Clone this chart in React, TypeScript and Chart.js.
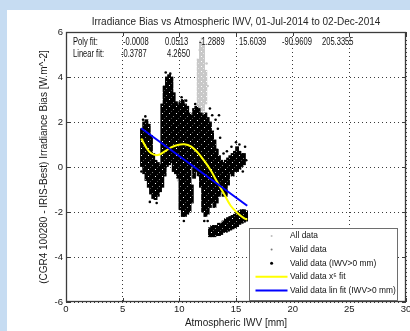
import { useEffect, useRef } from 'react';
import { Chart, registerables } from 'chart.js';

Chart.register(...registerables);

const FONT = "'Liberation Sans', Arial, Helvetica, sans-serif";

// ---------- text ----------
const TITLE = 'Irradiance Bias vs Atmospheric IWV, 01-Jul-2014 to 02-Dec-2014';
const X_TITLE = 'Atmospheric IWV [mm]';
const Y_TITLE = '(CGR4 100280 - IRIS-Best) Irradiance Bias [W.m^-2]';
const POLY_LABEL = 'Poly fit:';
const POLY_COEFFS = ['-0.0008', '0.0513', '-1.2889', '15.6039', '-90.9609', '205.3355'];
const LIN_LABEL = 'Linear fit:';
const LIN_COEFFS = ['-0.3787', '4.2650'];

// ---------- axes ----------
const X_MIN = 0, X_MAX = 30, X_STEP = 5;
const Y_MIN = -6, Y_MAX = 6, Y_STEP = 2;

// ---------- valid data (IWV>0 mm): column ranges ----------
const validIwv = [
  6.7, 6.9, 7.1, 7.3, 7.5, 7.7, 7.9, 8.1, 8.3, 8.5, 8.7, 8.9, 9.1, 9.3, 9.5, 9.7, 9.9,
  10.1, 10.3, 10.5, 10.7, 10.9, 11.1, 11.1, 11.3, 11.5, 11.7, 11.9, 12.1, 12.3, 12.5, 12.7,
  12.9, 13.1, 13.3, 13.5, 13.7, 13.9, 14.1, 14.3, 14.5, 14.7, 14.9, 15.1, 15.3, 15.5, 15.7,
  12.7, 12.9, 13.1, 13.3, 13.5, 13.7, 13.9, 14.1, 14.3, 14.5, 14.7, 14.9, 15.1, 15.3, 15.5, 15.7, 15.9,
];
const validBiasLow = [
  0.0, -0.3, -0.6, -0.9, -1.2, -1.4, -1.45, -1.3, -1.1, -0.9, -0.4, 0.0, 0.1, 0.2, -0.2, -0.3, -0.5,
  -1.9, -2.2, -2.2, -2.1, -2.0, 0.0, -1.6, -0.5, -0.2, -0.4, -0.9, -2.0, -2.2, -2.1, -1.8,
  -1.6, -1.8, -1.6, -1.3, -1.1, -1.3, -1.3, -0.8, -0.3, -0.4, -0.2, -0.2, -0.1, 0.0, 0.1,
  -3.1, -3.1, -3.1, -3.05, -3.05, -3.0, -2.9, -2.9, -2.85, -2.8, -2.75, -2.7, -2.65, -2.55, -2.5, -2.45, -2.4,
];
const validBiasHigh = [
  1.7, 2.0, 2.1, 1.9, 1.4, 0.6, 0.3, 0.2, 0.1, 2.8, 3.6, 4.0, 4.1, 4.0, 3.3, 2.9, 2.8,
  2.9, 3.0, 2.8, 2.7, 2.4, 2.3, -0.8, 2.6, 2.7, 2.6, 2.4, 2.3, 2.4, 2.2, 2.0,
  1.6, 1.2, 0.8, 0.5, 0.3, 0.2, 0.3, 0.4, 0.5, 0.6, 0.7, 0.9, 0.7, 0.6, 0.6,
  -2.7, -2.6, -2.6, -2.6, -2.5, -2.5, -2.4, -2.3, -2.25, -2.2, -2.15, -2.1, -2.0, -1.95, -1.9, -1.9, -1.95,
];
// isolated points around the clouds
const scatterIwv = [7.0, 6.8, 8.8, 9.2, 10.2, 10.6, 11.4, 12.7, 12.9, 13.2, 13.4, 13.6, 13.5, 13.9, 14.2, 14.6, 15.0, 15.3, 15.8, 15.9, 15.6, 7.4, 8.0, 10.4, 6.65, 12.2, 12.5];
const scatterBias = [2.25, 2.1, 4.2, 4.15, 3.1, 2.95, 2.8, 2.6, 2.3, 2.1, 1.7, 1.3, 2.3, 0.6, 0.7, 0.9, 1.1, 1.0, 0.9, 0.3, -0.2, -1.55, -1.6, -2.4, -0.2, -2.4, -2.4];

// ---------- all data (flagged points, light grey) ----------
const allIwv = [11.7, 11.9, 12.1, 12.3];
const allBiasLow = [2.6, 2.4, 2.5, 2.8];
const allBiasHigh = [4.8, 5.6, 5.4, 4.3];
const allPtIwv = [12.0, 11.8, 12.5, 12.4, 9.85, 9.9];
const allPtBias = [5.7, 5.2, 3.6, 4.6, -0.4, -0.6];

// ---------- fits ----------
const polyIwv = [6.64, 7.07, 7.51, 8.10, 8.68, 9.27, 9.85, 10.44, 11.02, 11.61, 12.19, 12.78, 13.36, 13.95, 14.53, 15.12, 15.70, 15.99];
const polyBias = [1.27, 0.87, 0.61, 0.53, 0.68, 0.87, 0.98, 1.01, 0.92, 0.65, 0.28, -0.16, -0.68, -1.2, -1.72, -2.04, -2.27, -2.34];
const linIwv = [6.64, 15.99];
const linBias = [1.72, -1.72];

// ---------- legend labels ----------
const LEGEND_ALL = 'All data';
const LEGEND_VALID = 'Valid data';
const LEGEND_IWV = 'Valid data (IWV>0 mm)';
const LEGEND_POLY = 'Valid data x\u2075 fit';
const LEGEND_LIN = 'Valid data lin fit (IWV>0 mm)';

const ranges = (xs: number[], lo: number[], hi: number[]) => xs.map((x, i) => ({ x, y: [lo[i], hi[i]] }));
const points = (xs: number[], ys: number[]) => xs.map((x, i) => ({ x, y: ys[i] }));

function speckle(base: string, size: number, holes: [number, number, string][]) {
  const c = document.createElement('canvas');
  c.width = size; c.height = size;
  const g = c.getContext('2d')!;
  g.fillStyle = base;
  g.fillRect(0, 0, size, size);
  holes.forEach(([x, y, col]) => { g.fillStyle = col; g.fillRect(x, y, 1, 1); });
  return g.createPattern(c, 'repeat');
}

const framePlugin = {
  id: 'frame',
  beforeDraw(chart: any) {
    const { ctx, width, height } = chart;
    ctx.save();
    ctx.fillStyle = '#c6dcf2';
    ctx.fillRect(0, 0, width, height);
    ctx.fillStyle = '#ffffff';
    ctx.fillRect(7, 10, width - 7, height - 10);
    ctx.restore();
  },
};

const boxPlugin = {
  id: 'box',
  afterDatasetsDraw(chart: any) {
    const { ctx, chartArea: a, scales } = chart;
    ctx.save();
    ctx.strokeStyle = '#3c3c3c';
    ctx.lineWidth = 1.3;
    ctx.strokeRect(a.left + 0.5, a.top + 0.5, a.right - a.left - 1, a.bottom - a.top - 1);
    const tl = 4;
    ctx.lineWidth = 1;
    ctx.beginPath();
    scales.x.ticks.forEach((t: any) => {
      const p = Math.round(scales.x.getPixelForValue(t.value)) + 0.5;
      ctx.moveTo(p, a.bottom); ctx.lineTo(p, a.bottom - tl);
      ctx.moveTo(p, a.top); ctx.lineTo(p, a.top + tl);
    });
    scales.y.ticks.forEach((t: any) => {
      const p = Math.round(scales.y.getPixelForValue(t.value)) + 0.5;
      ctx.moveTo(a.left, p); ctx.lineTo(a.left + tl, p);
      ctx.moveTo(a.right, p); ctx.lineTo(a.right - tl, p);
    });
    ctx.stroke();
    ctx.restore();
  },
};

const textPlugin = {
  id: 'texts',
  afterDraw(chart: any) {
    const { ctx, chartArea: a } = chart;
    ctx.save();
    ctx.fillStyle = '#262626';
    ctx.font = `10px ${FONT}`;
    ctx.textAlign = 'center';
    ctx.textBaseline = 'middle';
    ctx.fillText(TITLE, (a.left + a.right) / 2, 22);

    ctx.fillStyle = '#111';
    ctx.textAlign = 'left';
    ctx.font = `10.5px ${FONT}`;
    const narrow = (s: string, x: number, y: number) => {
      ctx.save();
      ctx.translate(x, y);
      ctx.scale(0.72, 1);
      ctx.fillText(s, 0, 0);
      ctx.restore();
    };
    const r1 = a.top + 10, r2 = a.top + 22.5;
    narrow(POLY_LABEL, a.left + 7, r1);
    narrow(LIN_LABEL, a.left + 7, r2);
    const polyOff = [57, 99, 133, 173, 216, 256];
    const linOff = [55, 101];
    POLY_COEFFS.forEach((c, i) => narrow(c, a.left + polyOff[i], r1));
    LIN_COEFFS.forEach((c, i) => narrow(c, a.left + linOff[i], r2));
    ctx.restore();
  },
};

const legendPlugin = {
  id: 'boxLegend',
  afterDraw(chart: any) {
    const { ctx, chartArea: a } = chart;
    const w = 148, h = 72;
    const x0 = Math.round(a.right - 9 - w), y0 = Math.round(a.bottom - 2 - h);
    ctx.save();
    ctx.fillStyle = '#fff';
    ctx.fillRect(x0, y0, w, h);
    ctx.strokeStyle = '#6e6e6e';
    ctx.lineWidth = 1;
    ctx.strokeRect(x0 + 0.5, y0 + 0.5, w, h);
    ctx.font = `8.4px ${FONT}`;
    ctx.textBaseline = 'middle';
    ctx.textAlign = 'left';
    const items = chart.data.datasets
      .filter((d: any) => d.legendRank !== undefined)
      .sort((p: any, q: any) => p.legendRank - q.legendRank);
    items.forEach((d: any, i: number) => {
      const y = y0 + 8 + 13.6 * i;
      if (d.legendKind === 'line') {
        ctx.strokeStyle = d.borderColor;
        ctx.lineWidth = 2;
        ctx.beginPath();
        ctx.moveTo(x0 + 6.5, y);
        ctx.lineTo(x0 + 38.5, y);
        ctx.stroke();
      } else {
        ctx.fillStyle = d.legendDotColor;
        ctx.beginPath();
        ctx.arc(x0 + 22.6, y, d.legendDot, 0, Math.PI * 2);
        ctx.fill();
      }
      ctx.fillStyle = '#111';
      ctx.fillText(d.label, x0 + 41, y);
    });
    ctx.restore();
  },
};

export default function App() {
  const ref = useRef<HTMLCanvasElement>(null);
  useEffect(() => {
    document.body.style.margin = '0';
    if (!ref.current) return;
    const blackFill = speckle('#000', 7, [[1, 1, '#ffffff'], [5, 4, '#8a8a8a'], [3, 6, '#444']]) || '#000';
    const greyFill = speckle('#c8c8c8', 5, [[1, 1, '#fff'], [3, 3, '#e6e6e6']]) || '#c8c8c8';
    const barCommon = { type: 'bar', grouped: false, barThickness: 3, borderWidth: 0 };
    const chart = new Chart(ref.current, {
      type: 'bar',
      data: {
        datasets: [
          { ...barCommon, label: LEGEND_ALL, data: ranges(allIwv, allBiasLow, allBiasHigh), backgroundColor: greyFill, order: 6, legendRank: 0, legendDot: 1, legendDotColor: '#bdbdbd' },
          { type: 'scatter', label: 'all-extra', data: points(allPtIwv, allPtBias), backgroundColor: '#c8c8c8', borderWidth: 0, pointRadius: 1.3, order: 7 },
          { ...barCommon, label: LEGEND_VALID, data: ranges(validIwv, validBiasLow, validBiasHigh), backgroundColor: '#808080', order: 5, legendRank: 1, legendDot: 1, legendDotColor: '#7a7a7a' },
          { ...barCommon, label: LEGEND_IWV, data: ranges(validIwv, validBiasLow, validBiasHigh), backgroundColor: blackFill, order: 3, legendRank: 2, legendDot: 1.5, legendDotColor: '#000' },
          { type: 'scatter', label: 'iwv-extra', data: points(scatterIwv, scatterBias), backgroundColor: '#000', borderWidth: 0, pointRadius: 1.3, order: 2 },
          { type: 'line', label: LEGEND_POLY, data: points(polyIwv, polyBias), borderColor: '#ffff00', borderWidth: 2, pointRadius: 0, tension: 0.35, order: 1, legendRank: 3, legendKind: 'line' },
          { type: 'line', label: LEGEND_LIN, data: points(linIwv, linBias), borderColor: '#0000ff', borderWidth: 2, pointRadius: 0, order: 0, legendRank: 4, legendKind: 'line' },
        ] as any,
      },
      options: {
        animation: false,
        responsive: false,
        devicePixelRatio: 1,
        layout: { padding: { top: 32, right: 2, left: 0, bottom: 0 } },
        plugins: { legend: { display: false }, title: { display: false }, tooltip: { enabled: false } },
        scales: {
          x: {
            type: 'linear', min: X_MIN, max: X_MAX, offset: false,
            ticks: { stepSize: X_STEP, padding: 2, color: '#1a1a1a', font: { family: FONT, size: 9.5 }, maxRotation: 0, autoSkip: false },
            grid: { color: '#3a3a3a', lineWidth: 1, drawTicks: false, offset: false },
            border: { display: false, dash: [1, 3] },
            title: { display: true, text: X_TITLE, color: '#1a1a1a', font: { family: FONT, size: 10 }, padding: { top: 0, bottom: 2 } },
            afterFit: (s: any) => { s.height = 29; s.paddingRight = 0; s.paddingLeft = 0; },
          },
          y: {
            type: 'linear', min: Y_MIN, max: Y_MAX,
            ticks: { stepSize: Y_STEP, padding: 3, color: '#1a1a1a', font: { family: FONT, size: 9.5 } },
            grid: { color: '#3a3a3a', lineWidth: 1, drawTicks: false },
            border: { display: false, dash: [1, 3] },
            title: { display: true, text: Y_TITLE, color: '#1a1a1a', font: { family: FONT, size: 10 }, padding: { top: 38, bottom: 0 } },
            afterFit: (s: any) => { s.width = 66; },
          },
        },
      } as any,
      plugins: [framePlugin, boxPlugin, textPlugin, legendPlugin],
    });
    return () => chart.destroy();
  }, []);
  return (
    <div style={{ width: 410, height: 331 }}>
      <canvas ref={ref} width={410} height={331} style={{ display: 'block', width: 410, height: 331 }} />
    </div>
  );
}
